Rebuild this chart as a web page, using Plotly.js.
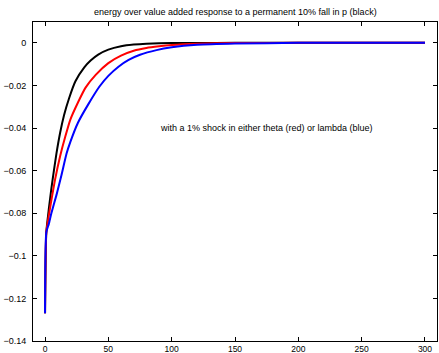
<!DOCTYPE html>
<html>
<head>
<meta charset="utf-8">
<script src="https://cdn.plot.ly/plotly-3.0.1.min.js"></script>
<style>html,body{margin:0;padding:0;background:#fff;}#chart{width:439px;height:353px;}</style>
</head>
<body>
<div id="chart"></div>
<script>
const titleText = "energy over value added response to a permanent 10% fall in p (black)";
const noteText = "with a 1% shock in either theta (red) or lambda (blue)";

const tBlack = [0, 1, 3, 5, 7, 9, 12, 15, 19, 24, 31, 36, 42, 50, 60, 70, 80, 100, 120, 150, 200, 250, 300];
const vBlack = [-0.127, -0.089, -0.078, -0.0685, -0.060, -0.052, -0.042, -0.034, -0.026, -0.018, -0.0115, -0.0083, -0.0055, -0.0032, -0.0016, -0.0008, -0.0004, -0.0001, -0.00003, 0, 0, 0, 0];

const tRed = [0, 1, 3, 5, 8, 12, 16, 20, 26, 32, 40, 50, 60, 70, 80, 90, 100, 120, 150, 200, 250, 300];
const vRed = [-0.127, -0.089, -0.081, -0.074, -0.064, -0.053, -0.044, -0.036, -0.028, -0.021, -0.015, -0.0095, -0.006, -0.0037, -0.0024, -0.0016, -0.001, -0.0004, -0.0001, 0, 0, 0];

const tBlue = [0, 1, 3, 5, 9, 13, 17, 20, 26, 34, 43, 50, 58, 66, 75, 88, 100, 120, 150, 200, 250, 300];
const vBlue = [-0.127, -0.089, -0.085, -0.080, -0.0715, -0.062, -0.052, -0.0465, -0.0375, -0.029, -0.0205, -0.0155, -0.0112, -0.008, -0.0056, -0.0034, -0.0021, -0.0009, -0.0003, 0, 0, 0];

const xTicks = [0, 50, 100, 150, 200, 250, 300];
const yTicks = [-0.14, -0.12, -0.1, -0.08, -0.06, -0.04, -0.02, 0];

const font = {family: "Liberation Sans, Arial, sans-serif", size: 9, color: "#000"};

const traces = [
  {x: tBlack, y: vBlack, mode: "lines", line: {color: "#000000", width: 2, shape: "spline", smoothing: 0.5}},
  {x: tRed, y: vRed, mode: "lines", line: {color: "#ff0000", width: 2, shape: "spline", smoothing: 0.5}},
  {x: tBlue, y: vBlue, mode: "lines", line: {color: "#0000ff", width: 2, shape: "spline", smoothing: 0.5}}
];

const axisCommon = {
  showline: true, linecolor: "#000", linewidth: 1, mirror: "ticks",
  ticks: "inside", ticklen: 4, tickcolor: "#000", tickwidth: 1,
  showgrid: false, zeroline: false, tickfont: font
};

const layout = {
  width: 439, height: 353,
  margin: {l: 33, r: 2, t: 22, b: 12},
  paper_bgcolor: "#fff", plot_bgcolor: "#fff",
  showlegend: false,
  font: font,
  title: {text: titleText, font: font, x: 0.536, xanchor: "center", y: 0.967, yanchor: "middle"},
  xaxis: Object.assign({}, axisCommon, {range: [-9.5, 309.5], tickvals: xTicks, ticktext: xTicks.map(String), ticklabelstandoff: 0, tickfont: {family: font.family, size: 8.5, color: "#000"}}),
  yaxis: Object.assign({}, axisCommon, {range: [-0.14, 0.0098], tickvals: yTicks, ticktext: yTicks.map(v => v === 0 ? "0" : "\u2212" + String(Math.abs(v))), ticklabelstandoff: 4}),
  annotations: [{x: 175, y: -0.04, xref: "x", yref: "y", text: noteText, showarrow: false, font: font}]
};

Plotly.newPlot("chart", traces, layout, {staticPlot: true, displayModeBar: false});
</script>
</body>
</html>
